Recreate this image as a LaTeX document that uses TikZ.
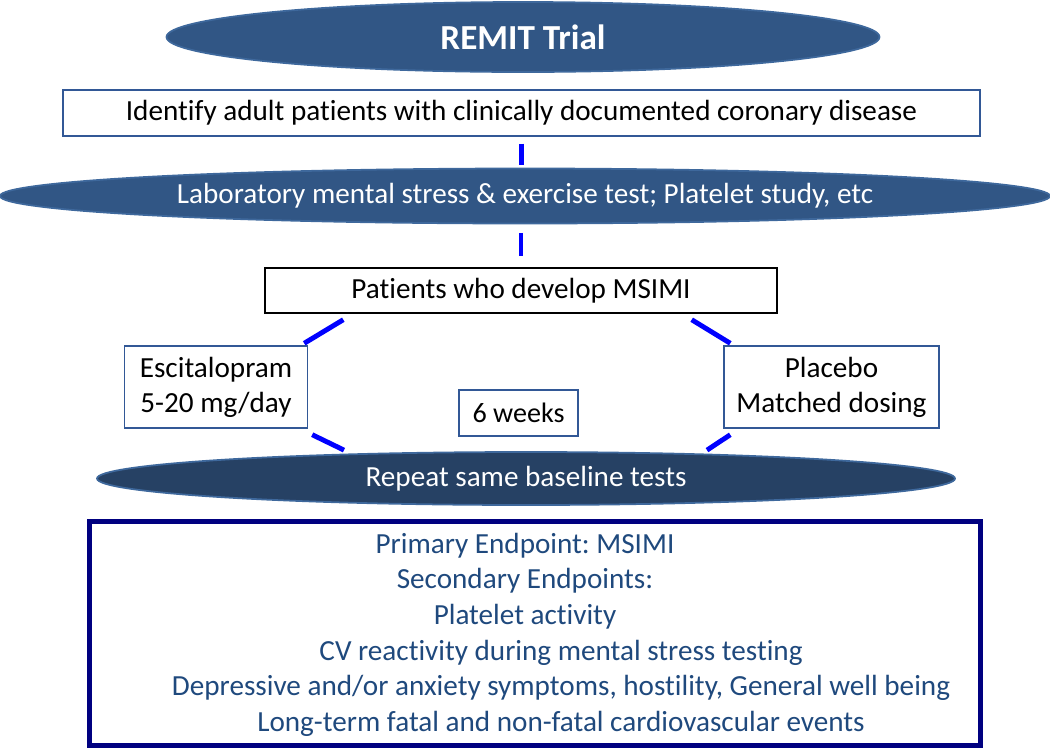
\documentclass[tikz,border=0pt]{standalone}
\usepackage{fontspec}
\setmainfont{Carlito}[Ligatures=NoCommon]
\frenchspacing
\usetikzlibrary{shapes.geometric}
\definecolor{bannerblue}{RGB}{49,86,133}
\definecolor{banneredge}{RGB}{62,104,156}
\definecolor{repeatblue}{RGB}{38,65,100}
\definecolor{boxedge}{RGB}{50,88,150}
\definecolor{linkblue}{RGB}{0,0,255}
\definecolor{navyedge}{RGB}{0,0,128}
\definecolor{endtext}{RGB}{31,73,125}
\newcommand{\bigtxt}{\fontsize{16.6}{20}\selectfont}

\begin{document}
\begin{tikzpicture}
                        \tikzstyle{banner}=[ellipse, fill=bannerblue, draw=banneredge, line width=1pt, text=white, inner sep=0pt, font=\bigtxt]
                        \tikzstyle{stepbox}=[rectangle, draw=boxedge, line width=0.8pt, inner sep=0pt, align=center, font=\bigtxt]
                        \tikzstyle{endpart}=[align=center, text=endtext, inner sep=0pt, font=\fontsize{16.6}{20.2}\selectfont]
                        \tikzstyle{link}=[draw=linkblue, line width=2.8pt]
                        \useasboundingbox (0,0) rectangle (21,-15);
                        % top of the flow
                        \node[banner, minimum width=14.26cm, minimum height=1.4cm, font=\fontsize{20}{24}\selectfont\bfseries] (title) at (10.46,-0.74) {REMIT Trial};
                        \node[stepbox, minimum width=18.34cm, minimum height=0.92cm] (identify) at (10.43,-2.26) {Identify adult patients with clinically documented coronary disease};
                        \node[banner, minimum width=21cm, minimum height=1.1cm] (lab) at (10.5,-3.92) {Laboratory mental stress \& exercise test; Platelet study, etc};
                        \node[stepbox, draw=black, minimum width=10.24cm, minimum height=0.9cm] (patients) at (10.42,-5.81) {Patients who develop MSIMI};
                        % the two arms
                        \node[stepbox, minimum width=3.66cm, minimum height=1.64cm] (escit) at (4.32,-7.74) {Escitalopram\\5-20 mg/day};
                        \node[stepbox, minimum width=4.3cm, minimum height=1.64cm] (placebo) at (16.63,-7.74) {Placebo\\Matched dosing};
                        \node[stepbox, minimum width=2.38cm, minimum height=0.92cm, font=\fontsize{16}{20}\selectfont] (weeks) at (10.37,-8.26) {6 weeks};
                        \node[banner, fill=repeatblue, minimum width=17.16cm, minimum height=1.06cm] (repeat) at (10.52,-9.57) {Repeat same baseline tests};
                        % endpoints
                        \node[rectangle, draw=navyedge, line width=2.8pt, minimum width=17.82cm, minimum height=4.48cm] (endpoints) at (10.7,-12.67) {};
                        \node[endpart] (endhead) at (10.5,-11.62) {Primary Endpoint: MSIMI\\Secondary Endpoints:\\Platelet activity};
                        \node[endpart] (endlist) at (11.22,-13.76) {CV reactivity during mental stress testing\\Depressive and/or anxiety symptoms, hostility, General well being\\Long-term fatal and non-fatal cardiovascular events};
                        % connectors
                        \draw[link, shorten <=0.14cm, shorten >=0.06cm] (identify.south) -- (lab.north -| identify.south);
                        \draw[link, shorten <=0.17cm, shorten >=0.22cm] (lab.south -| patients.south) -- (patients.north);
                        \draw[link] ([xshift=1.58cm,yshift=-0.12cm]patients.south west) -- ([xshift=-0.08cm,yshift=0.04cm]escit.north east);
                        \draw[link] ([xshift=-1.72cm,yshift=-0.12cm]patients.south east) -- ([xshift=0.14cm,yshift=0.04cm]placebo.north west);
                        \draw[link] ([xshift=0.08cm,yshift=-0.12cm]escit.south east) -- ([xshift=-3.64cm,yshift=0.02cm]repeat.north);
                        \draw[link] ([xshift=0.14cm,yshift=-0.12cm]placebo.south west) -- ([xshift=3.62cm,yshift=0.02cm]repeat.north);
                    \end{tikzpicture}
\end{document}
